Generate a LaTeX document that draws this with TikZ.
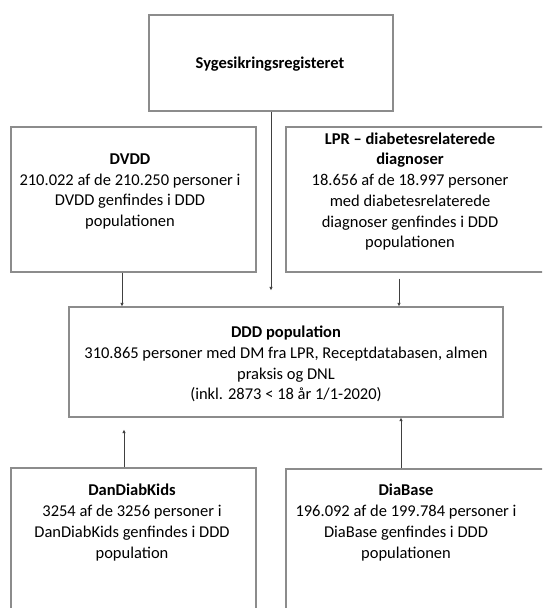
\documentclass[tikz,border=0pt]{standalone}
\usepackage{fontspec}
\setmainfont{Carlito}
\usetikzlibrary{arrows.meta}

\begin{document}
\begin{tikzpicture}[x=1pt, y=-1pt,
    kasse/.style={draw=black!45, line width=1.2pt, minimum width=#1, inner sep=0pt},
    tekst/.style={align=center, inner sep=0pt, font=\fontsize{16.5}{20.7}\selectfont},
    pil/.style={draw=black!75, line width=0.8pt, -{Latex[length=3.5pt,width=3.5pt]}}]
    % ramme (billedets størrelse)
    \useasboundingbox (0,0) rectangle (542,608);
    \clip (0,0) rectangle (542,608);

    % kasser (de to højre og de to nederste går ud over kanten)
    \node[kasse=244, minimum height=96] (sgr) at (271,63) {};
    \node[kasse=245, minimum height=145] (dvdd) at (133.5,199.5) {};
    \node[kasse=274, minimum height=145] (lpr) at (423,199.5) {};
    \node[kasse=434, minimum height=110] (ddd) at (286,362) {};
    \node[kasse=245, minimum height=152] (kids) at (133.5,544) {};
    \node[kasse=274, minimum height=152] (diab) at (423,545) {};

    % tekster
    \node[tekst] (sgrtxt) at (270,64) {\textbf{Sygesikringsregisteret}};
    \node[tekst] (dvddtxt) at (130,191.5) {\textbf{DVDD}\\210.022 af de 210.250 personer i\\DVDD genfindes i DDD\\populationen};
    \node[tekst] (lprtxt) at (410,191.5) {\textbf{LPR – diabetesrelaterede}\\\textbf{diagnoser}\\18.656 af de 18.997 personer\\med diabetesrelaterede\\diagnoser genfindes i DDD\\populationen};
    \node[tekst] (dddtxt) at (286,364) {\textbf{DDD population}\\310.865 personer med DM fra LPR, Receptdatabasen, almen\\praksis og DNL\\(inkl. 2873 < 18 år 1/1-2020)};
    \node[tekst] (kidstxt) at (132,522.5) {\textbf{DanDiabKids}\\3254 af de 3256 personer i\\DanDiabKids genfindes i DDD\\population};
    \node[tekst] (diabtxt) at (406,522.5) {\textbf{DiaBase}\\196.092 af de 199.784 personer i\\DiaBase genfindes i DDD\\populationen};

    % pile ned mod DDD population
    \draw[pil] (sgr.south) -- ([yshift=16pt]sgr.south |- ddd.north);
    \draw[pil] ([xshift=-11.5pt]dvdd.south) -- ([xshift=-11.5pt]dvdd.south |- ddd.north);
    \draw[pil] ([xshift=-24pt, yshift=-6pt]lpr.south) -- ([xshift=-24pt]lpr.south |- ddd.north);

    % pile op mod DDD population
    \draw[pil] ([xshift=-9.5pt]kids.north) -- ([xshift=-9.5pt, yshift=-12pt]kids.north |- ddd.south);
    \draw[pil] ([xshift=-22pt]diab.north) -- ([xshift=-22pt]diab.north |- ddd.south);
\end{tikzpicture}
\end{document}
